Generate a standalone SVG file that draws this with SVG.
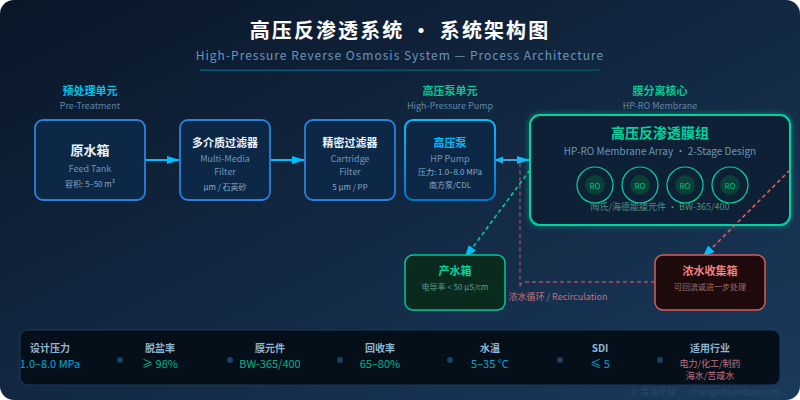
<svg xmlns="http://www.w3.org/2000/svg" width="800" height="400" viewBox="0 0 800 400">
<style>
text{font-family:"Noto Sans CJK SC","Noto Sans",sans-serif;text-anchor:middle}
.n{fill:#0d2847;stroke:#2a82dc;stroke-width:1.800}
.t{fill:#e8f4ff;font-weight:700}
.s{fill:#6a96b8}
.u{fill:#8aa8c4}
.sec{font-size:11px;font-weight:700}
.secs{font-size:9px;fill:#5f87a6}
.lab{font-size:10px;font-weight:700;fill:#8fb6d2}
.val{font-size:11px}
.dot{fill:#1a3f63}
.ro{fill:none;stroke:#00d4a0;stroke-width:1.200}
.roi{fill:#0a4035}
.rot{font-size:8px;fill:#00c090}
</style>
<defs>
<linearGradient id="bg" x1="0" y1="0" x2="1" y2="1"><stop offset="0" stop-color="#0a1628"/><stop offset="1" stop-color="#1a3a5c"/></linearGradient>
<linearGradient id="pump" x1="0" y1="0" x2="0" y2="1"><stop offset="0" stop-color="#00bfff"/><stop offset="1" stop-color="#0077cc"/></linearGradient>
<linearGradient id="rule" x1="0" x2="1"><stop offset="0" stop-color="#0a5a78"/><stop offset="1" stop-color="#0a4f68"/></linearGradient>
<filter id="glow" x="-10%" y="-20%" width="120%" height="140%"><feGaussianBlur stdDeviation="2.500"/></filter>
<marker id="a" markerUnits="userSpaceOnUse" markerWidth="14" markerHeight="10" refX="13" refY="5" orient="auto"><path d="M0 1 L13 5 L0 9Z" fill="#00bfff"/></marker>
<marker id="b" markerUnits="userSpaceOnUse" markerWidth="14" markerHeight="10" refX="9" refY="5" orient="auto"><path d="M0 0.500 L13 5 L0 9.500Z" fill="#00bfff"/></marker>
<marker id="as" markerUnits="userSpaceOnUse" markerWidth="10" markerHeight="8" refX="1" refY="4" orient="auto"><path d="M9 0.500 L0 4 L9 7.500Z" fill="#00bfff"/></marker>
</defs>
<rect width="800" height="400" fill="#fff"/>
<rect width="800" height="400" rx="14" fill="url(#bg)"/>
<text x="400" y="38" font-size="20" font-weight="700" letter-spacing="2.100" fill="#fff">高压反渗透系统  ·  系统架构图</text>
<text x="400" y="60" font-size="12" letter-spacing="1" fill="#6a96b8">High-Pressure Reverse Osmosis System — Process Architecture</text>
<rect x="200" y="69.500" width="400" height="1.500" fill="url(#rule)"/>

<g id="section-labels">
<text class="sec" x="90" y="95" fill="#00bfea">预处理单元</text><text class="secs" x="90" y="108.500">Pre-Treatment</text>
<text class="sec" x="450" y="95" fill="#00c896">高压泵单元</text><text class="secs" x="450" y="108.500">High-Pressure Pump</text>
<text class="sec" x="660" y="95" fill="#00c896">膜分离核心</text><text class="secs" x="660" y="108.500">HP-RO Membrane</text>
</g>

<g id="membrane-array">
<rect x="530" y="115" width="260" height="110" rx="10" fill="none" stroke="#00d4a0" stroke-width="3" stroke-opacity=".55" filter="url(#glow)"/>
<rect x="530" y="115" width="260" height="110" rx="10" fill="#0d2035" stroke="#00d4a0" stroke-width="2"/>
<text x="660" y="138" font-size="14" font-weight="700" fill="#00d4a0">高压反渗透膜组</text>
<text class="s" x="660" y="155" font-size="10" fill="#7aa2c0">HP-RO Membrane Array  ·  2-Stage Design</text>
<circle class="ro" cx="595" cy="185" r="18"/><circle class="roi" cx="595" cy="185" r="10"/><text class="rot" x="595" y="188.500">RO</text>
<circle class="ro" cx="640" cy="185" r="18"/><circle class="roi" cx="640" cy="185" r="10"/><text class="rot" x="640" y="188.500">RO</text>
<circle class="ro" cx="685" cy="185" r="18"/><circle class="roi" cx="685" cy="185" r="10"/><text class="rot" x="685" y="188.500">RO</text>
<circle class="ro" cx="730" cy="185" r="18"/><circle class="roi" cx="730" cy="185" r="10"/><text class="rot" x="730" y="188.500">RO</text>
<text x="660" y="210" font-size="9" fill="#4d8f80">陶氏/海德能膜元件  ·  BW-365/400</text>
</g>

<g id="connectors" fill="none">
<path d="M145 160H180" stroke="#00bfff" stroke-width="1.800" marker-end="url(#a)"/>
<path d="M270 160H305" stroke="#00bfff" stroke-width="1.800" marker-end="url(#a)"/>
<path d="M495 160H530" stroke="#00bfff" stroke-width="1.800" marker-end="url(#a)" marker-start="url(#as)"/>
<path d="M530 170L467 255" stroke="#00d4a0" stroke-width="1.500" stroke-dasharray="4 3" marker-end="url(#b)"/>
<path d="M790 170L705 255" stroke="#e86060" stroke-width="1.500" stroke-dasharray="4 3" marker-end="url(#b)"/>
<path d="M655 282H526Q520 282 520 288V160H498" stroke="#e06070" stroke-opacity=".7" stroke-width="1.300" stroke-dasharray="4 3"/>
</g>

<g id="feed-tank"><rect class="n" x="35" y="120" width="110" height="80" rx="8"/>
<text class="t" x="90" y="155" font-size="13">原水箱</text><text class="s" x="90" y="172" font-size="9">Feed Tank</text><text class="u" x="90" y="186.500" font-size="8">容积: 5–50 m³</text></g>
<g id="multi-media-filter"><rect class="n" x="180" y="120" width="90" height="80" rx="8"/>
<text class="t" x="225" y="147" font-size="11">多介质过滤器</text><text class="s" x="225" y="162" font-size="9">Multi-Media</text><text class="s" x="225" y="175" font-size="9">Filter</text><text class="u" x="225" y="190" font-size="8">μm / 石英砂</text></g>
<g id="cartridge-filter"><rect class="n" x="305" y="120" width="90" height="80" rx="8"/>
<text class="t" x="350" y="147" font-size="11">精密过滤器</text><text class="s" x="350" y="162" font-size="9">Cartridge</text><text class="s" x="350" y="175" font-size="9">Filter</text><text class="u" x="350" y="190" font-size="8">5 μm / PP</text></g>
<g id="hp-pump"><rect x="405" y="120" width="90" height="80" rx="8" fill="#0d2847" stroke="url(#pump)" stroke-width="2"/>
<text x="450" y="147" font-size="11" font-weight="700" fill="#00bfff">高压泵</text><text class="s" x="450" y="162" font-size="9">HP Pump</text><text class="u" x="450" y="175" font-size="8">压力: 1.0–8.0 MPa</text><text class="u" x="450" y="188" font-size="8">南方泵/CDL</text></g>
<g id="product-tank"><rect x="405" y="255" width="100" height="55" rx="8" fill="#0a2a1e" stroke="#00c896" stroke-width="1.500"/>
<text x="455" y="275" font-size="11" font-weight="700" fill="#00d4a0">产水箱</text><text x="455" y="290" font-size="8" fill="#5f9e8a">电导率 &lt; 50 μS/cm</text></g>
<g id="concentrate-tank"><rect x="655" y="255" width="110" height="55" rx="8" fill="#1e0a0a" stroke="#d85c5c" stroke-width="1.500"/>
<text x="710" y="275" font-size="11" font-weight="700" fill="#f08080">浓水收集箱</text><text x="710" y="290" font-size="8" fill="#a07070">可回流或进一步处理</text></g>
<text x="558" y="300" font-size="9" fill="#c07080">浓水循环 / Recirculation</text>

<g id="stats">
<rect x="20" y="330" width="760" height="55" rx="8" fill="#050f1a" stroke="#1a3a5c"/>
<circle class="dot" cx="120" cy="360" r="3"/><circle class="dot" cx="230" cy="360" r="3"/><circle class="dot" cx="340" cy="360" r="3"/><circle class="dot" cx="450" cy="360" r="3"/><circle class="dot" cx="560" cy="360" r="3"/><circle class="dot" cx="660" cy="360" r="3"/>
<text class="lab" x="50" y="352">设计压力</text><text class="val" x="50" y="368" fill="#00a8d8">1.0–8.0 MPa</text>
<text class="lab" x="160" y="352">脱盐率</text><text class="val" x="160" y="368" fill="#00b488">≥ 98%</text>
<text class="lab" x="270" y="352">膜元件</text><text class="val" x="270" y="368" fill="#00b488">BW-365/400</text>
<text class="lab" x="380" y="352">回收率</text><text class="val" x="380" y="368" fill="#00b488">65–80%</text>
<text class="lab" x="490" y="352">水温</text><text class="val" x="490" y="368" fill="#00a8d8">5–35 °C</text>
<text class="lab" x="600" y="352">SDI</text><text class="val" x="600" y="368" fill="#00a8d8">≤ 5</text>
<text class="lab" x="710" y="352">适用行业</text><text x="710" y="366.500" font-size="9" fill="#c07080">电力/化工/制药</text><text x="710" y="378.500" font-size="9" fill="#c07080">海水/苦咸水</text>
</g>
<text x="780" y="395" font-size="9" fill="#2a4a6a" style="text-anchor:end">© 昌海环保 · changaihuanbao.com</text>
</svg>
